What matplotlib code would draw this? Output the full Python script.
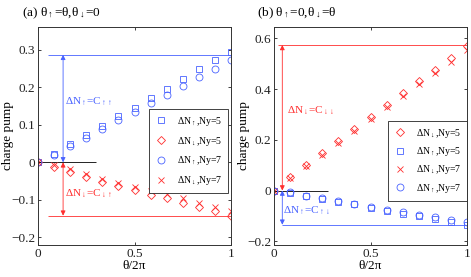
import numpy as np
import matplotlib
matplotlib.use("Agg")
import matplotlib.pyplot as plt

plt.rcParams['font.family'] = ['Liberation Serif', 'DejaVu Serif']
plt.rcParams['mathtext.fontset'] = 'custom'
plt.rcParams['mathtext.rm'] = 'Liberation Serif'
plt.rcParams['mathtext.it'] = 'Liberation Serif:italic'
plt.rcParams['mathtext.bf'] = 'Liberation Serif:bold'
plt.rcParams['axes.unicode_minus'] = True

# ---------------- data ----------------
theta = [0, 1/12, 2/12, 3/12, 4/12, 5/12, 6/12, 7/12, 8/12, 9/12, 10/12, 11/12, 1]

# panel (a): theta_up = theta, theta_down = 0
a_up_ny5 = [0, 0.023, 0.049, 0.073, 0.096, 0.122, 0.145, 0.172, 0.195, 0.221, 0.247, 0.271, 0.294]
a_dn_ny5 = [0, -0.013, -0.025, -0.039, -0.052, -0.063, -0.074, -0.086, -0.096, -0.108, -0.119, -0.130, -0.142]
a_up_ny7 = [0, 0.020, 0.043, 0.066, 0.089, 0.113, 0.135, 0.157, 0.180, 0.203, 0.226, 0.249, 0.272]
a_dn_ny7 = [0, -0.008, -0.019, -0.031, -0.045, -0.055, -0.065, -0.076, -0.085, -0.096, -0.109, -0.119, -0.130]
C_uu = 0.286
C_du = -0.142

# panel (b): theta_up = 0, theta_down = theta
b_dn_ny5 = [0, 0.053, 0.102, 0.148, 0.194, 0.241, 0.290, 0.338, 0.384, 0.431, 0.477, 0.523, 0.570]
b_up_ny5 = [0, -0.008, -0.021, -0.033, -0.045, -0.055, -0.068, -0.080, -0.091, -0.102, -0.113, -0.125, -0.136]
b_dn_ny7 = [0, 0.048, 0.096, 0.142, 0.188, 0.233, 0.281, 0.328, 0.374, 0.420, 0.464, 0.508, 0.556]
b_up_ny7 = [0, -0.007, -0.020, -0.031, -0.043, -0.052, -0.065, -0.076, -0.086, -0.097, -0.106, -0.115, -0.124]
C_dd = 0.574
C_ud = -0.135

BLUE = '#4862ff'
RED = '#ff2e2e'

fig = plt.figure(figsize=(4.71, 2.77), dpi=100)
axA = fig.add_axes([38/471, 32/277, 193/471, 218/277])
axB = fig.add_axes([274/471, 32/277, 193/471, 218/277])

mk = dict(linestyle='none', mfc='none', markersize=5, mew=0.6)

def style(ax):
    ax.tick_params(direction='in', top=True, right=True, length=2.5, width=0.6,
                   labelsize=9.5, pad=2, colors='#222222')
    for s in ax.spines.values():
        s.set_linewidth(0.7)
        s.set_color('#333333')
    ax.set_xlim(0, 1)
    ax.set_xticks([0, 0.5, 1])
    ax.set_xticklabels(['0', '0.5', '1'])
    ax.set_xlabel('θ/2π', fontsize=9.5, labelpad=0)
    ax.set_ylabel('charge pump', fontsize=9.5)
    ax.yaxis.set_label_coords(-0.125, 0.5)

lab_up5 = r'ΔN$_{\uparrow}$,Ny=5'
lab_dn5 = r'ΔN$_{\downarrow}$,Ny=5'
lab_up7 = r'ΔN$_{\uparrow}$,Ny=7'
lab_dn7 = r'ΔN$_{\downarrow}$,Ny=7'

arrow_kw = dict(arrowstyle='<|-|>', lw=0.6, mutation_scale=7, shrinkA=0, shrinkB=0)

# ---------------- panel (a) ----------------
ax = axA
ax.hlines(C_uu, 0.05, 1, color=BLUE, lw=0.6)
ax.hlines(C_du, 0.05, 1, color=RED, lw=0.6)
ax.hlines(0, 0, 0.3, color='k', lw=0.6)
ax.annotate('', xy=(0.13, C_uu), xytext=(0.13, 0),
            arrowprops=dict(color=BLUE, **arrow_kw))
ax.annotate('', xy=(0.13, C_du), xytext=(0.13, 0),
            arrowprops=dict(color=RED, **arrow_kw))
ax.text(0.14, 0.162, r'ΔN$_{\uparrow}$=C$_{\uparrow\uparrow}$', color=BLUE,
        fontsize=8, va='center')
ax.text(0.14, -0.083, r'ΔN$_{\downarrow}$=C$_{\downarrow\uparrow}$', color=RED,
        fontsize=8, va='center')
ax.plot(theta, a_up_ny5, marker='s', color=BLUE, label=lab_up5, **mk)
ax.plot(theta, a_dn_ny5, marker='D', color=RED, label=lab_dn5,
        **{**mk, 'markersize': 4.3})
ax.plot(theta, a_up_ny7, marker='o', color=BLUE, label=lab_up7, **mk)
ax.plot(theta, a_dn_ny7, marker='x', color=RED, label=lab_dn7,
        **{**mk, 'markersize': 4.5})
ax.set_ylim(-0.22, 0.36)
ax.set_yticks([-0.2, -0.1, 0, 0.1, 0.2, 0.3])
ax.set_yticklabels(['\u22120.2', '\u22120.1', '0', '0.1', '0.2', '0.3'])
style(ax)
leg = ax.legend(loc='upper right', bbox_to_anchor=(0.984, 0.624), fontsize=7,
                frameon=True, fancybox=False, edgecolor='#222222', framealpha=1,
                handlelength=1.2, handletextpad=1.0, borderpad=0.6,
                labelspacing=0.7, borderaxespad=0)
leg.get_frame().set_linewidth(0.6)
fig.text(22/471, 1 - 13/277, r'(a) θ$_{\uparrow}$=θ,θ$_{\downarrow}$=0',
         fontsize=9.5, va='center', ha='left')

# ---------------- panel (b) ----------------
ax = axB
ax.hlines(C_dd, 0.02, 1, color=RED, lw=0.6)
ax.hlines(C_ud, 0.04, 1, color=BLUE, lw=0.6)
ax.hlines(0, 0, 0.28, color='k', lw=0.6)
ax.annotate('', xy=(0.043, C_dd), xytext=(0.043, 0),
            arrowprops=dict(color=RED, **arrow_kw))
ax.annotate('', xy=(0.043, C_ud), xytext=(0.043, 0),
            arrowprops=dict(color=BLUE, **arrow_kw))
ax.text(0.066, 0.316, r'ΔN$_{\downarrow}$=C$_{\downarrow\downarrow}$', color=RED,
        fontsize=8, va='center')
ax.text(0.045, -0.076, r'ΔN$_{\uparrow}$=C$_{\uparrow\downarrow}$', color=BLUE,
        fontsize=8, va='center')
ax.plot(theta, b_dn_ny5, marker='D', color=RED, label=lab_dn5,
        **{**mk, 'markersize': 4.3})
ax.plot(theta, b_up_ny5, marker='s', color=BLUE, label=lab_up5, **mk)
ax.plot(theta, b_dn_ny7, marker='x', color=RED, label=lab_dn7,
        **{**mk, 'markersize': 4.5})
ax.plot(theta, b_up_ny7, marker='o', color=BLUE, label=lab_up7, **mk)
ax.set_ylim(-0.215, 0.645)
ax.set_yticks([-0.2, 0, 0.2, 0.4, 0.6])
ax.set_yticklabels(['\u22120.2', '0', '0.2', '0.4', '0.6'])
style(ax)
leg = ax.legend(loc='upper right', bbox_to_anchor=(1.0, 0.569), fontsize=7,
                frameon=True, fancybox=False, edgecolor='#222222', framealpha=1,
                handlelength=1.2, handletextpad=1.0, borderpad=0.6,
                labelspacing=0.55, borderaxespad=0)
leg.get_frame().set_linewidth(0.6)
fig.text(257/471, 1 - 13/277, r'(b) θ$_{\uparrow}$=0,θ$_{\downarrow}$=θ',
         fontsize=9.5, va='center', ha='left')

fig.savefig('out.png', dpi=100)
